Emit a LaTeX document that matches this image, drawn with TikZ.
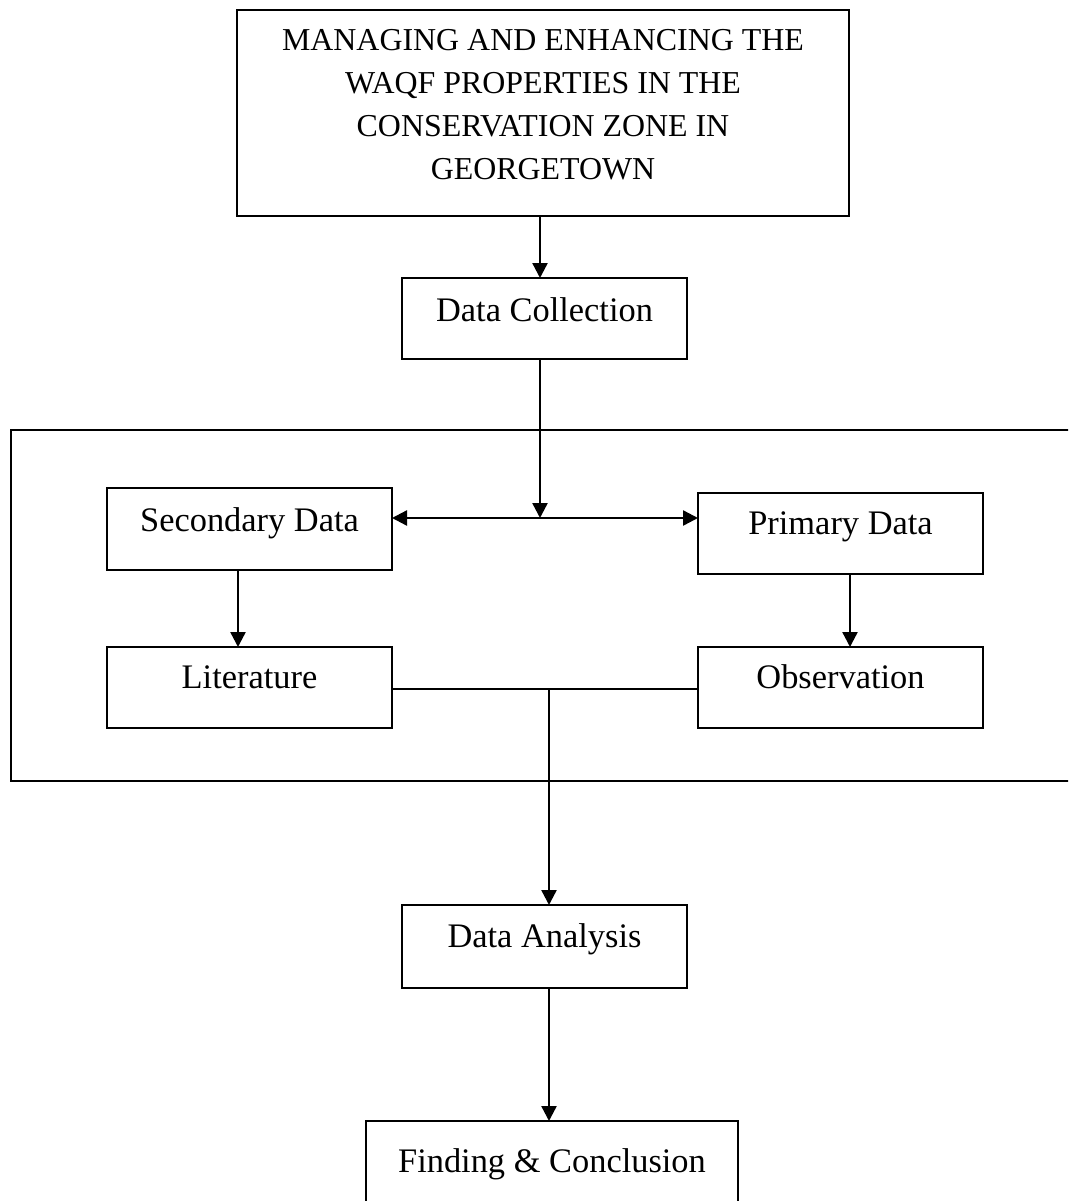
\documentclass[tikz,border=0pt]{standalone}
\usepackage{fontspec}
\setmainfont{Liberation Serif}
\usetikzlibrary{arrows.meta}
\begin{document}
\begin{tikzpicture}[x=1pt,y=-1pt,
  box/.style={draw, line width=2pt, rectangle, inner sep=0pt, outer sep=0pt, anchor=north west, font=\fontsize{34.4}{41}\selectfont},
  conn/.style={line width=2.4pt},
  arr/.style={conn, -{Triangle[length=15pt,width=15pt]}},
  darr/.style={conn, {Triangle[length=15pt,width=15pt]}-{Triangle[length=15pt,width=15pt]}}]
\path[use as bounding box, clip] (0,0) rectangle (1068,1201);
\fill[white] (0,0) rectangle (1068,1201);
% title
\node[draw, line width=2pt, inner sep=0pt, outer sep=0pt, anchor=north west, minimum width=612pt, minimum height=206pt] (title) at (237,10) {};
\node[anchor=north, inner sep=0pt, align=center, font=\fontsize{31.9}{43}\selectfont] (titletext) at (543,29) {MANAGING AND ENHANCING THE\\ WAQF PROPERTIES IN THE\\ CONSERVATION ZONE IN\\ GEORGETOWN};
% group frame
\node[draw, line width=2.4pt, inner sep=0pt, outer sep=0pt, anchor=north west, minimum width=1080pt, minimum height=351pt] (group) at (11,430) {};
% boxes
\node[box, minimum width=285pt, text height=43pt, text depth=38pt] (dc) at (402,278) {Data Collection};
\node[box, minimum width=285pt, text height=43pt, text depth=39pt] (sec) at (107,488) {Secondary Data};
\node[box, minimum width=285pt, text height=41pt, text depth=40pt] (pri) at (698,493) {Primary Data};
\node[box, minimum width=285pt, text height=41pt, text depth=40pt] (lit) at (107,647) {Literature};
\node[box, minimum width=285pt, text height=41pt, text depth=40pt] (obs) at (698,647) {Observation};
\node[box, minimum width=285pt, text height=42pt, text depth=41pt] (da) at (402,905) {Data Analysis};
\node[box, minimum width=372pt, text height=51pt, text depth=50pt] (fc) at (366,1121) {Finding \& Conclusion};
% connectors
\coordinate (split) at (540,518);
\coordinate (join) at (549,689);
\draw[arr] ([xshift=-3pt]title.south) -- ([xshift=-4.5pt]dc.north);
\draw[arr] ([xshift=-4.5pt]dc.south) -- (split);
\draw[darr] (sec.east |- split) -- (pri.west |- split);
\draw[arr] ([xshift=-11.5pt]sec.south) -- ([xshift=-11.5pt]lit.north);
\draw[arr] ([xshift=9.5pt]pri.south) -- ([xshift=9.5pt]obs.north);
\draw[conn] (lit.east |- join) -- (obs.west |- join);
\draw[arr] (join) -- ([xshift=4.5pt]da.north);
\draw[arr] ([xshift=4.5pt]da.south) -- ([xshift=-3pt]fc.north);
\end{tikzpicture}
\end{document}
